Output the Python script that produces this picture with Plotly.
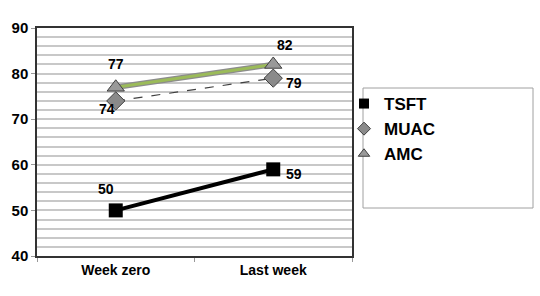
import plotly.graph_objects as go

categories = ["Week zero", "Last week"]
tsft = [50, 59]
muac = [74, 79]
amc = [77, 82]

FONT = "Liberation Sans, Arial, sans-serif"

fig = go.Figure()

# AMC: gray outline under green line
fig.add_trace(go.Scatter(x=categories, y=amc, mode="lines", line=dict(color="#8c8c8c", width=5.5),
                         showlegend=False, hoverinfo="skip"))
fig.add_trace(go.Scatter(x=categories, y=muac, mode="lines+markers", showlegend=False,
                         line=dict(color="#404040", width=1.2, dash="dash"),
                         marker=dict(symbol="diamond", size=14, color="#8a8a8a",
                                     line=dict(color="#404040", width=1))))
fig.add_trace(go.Scatter(x=categories, y=amc, mode="lines+markers", showlegend=False,
                         line=dict(color="#9bbb59", width=3),
                         marker=dict(symbol="triangle-up", size=15, color="#999999",
                                     line=dict(color="#404040", width=1))))
fig.add_trace(go.Scatter(x=categories, y=tsft, mode="lines+markers", showlegend=False,
                         line=dict(color="#000000", width=4),
                         marker=dict(symbol="square", size=14, color="#000000")))

# legend-only entries
fig.add_trace(go.Scatter(x=[None], y=[None], mode="markers", name="TSFT", legendrank=1,
                         marker=dict(symbol="square", size=10, color="#000")))
fig.add_trace(go.Scatter(x=[None], y=[None], mode="markers", name="MUAC", legendrank=2,
                         marker=dict(symbol="diamond", size=10, color="#8a8a8a",
                                     line=dict(color="#404040", width=1))))
fig.add_trace(go.Scatter(x=[None], y=[None], mode="markers", name="AMC", legendrank=3,
                         marker=dict(symbol="triangle-up", size=10, color="#999999",
                                     line=dict(color="#404040", width=1))))

# value labels (offsets in pixels)
offsets = {
    "tsft": [(-10, 21), (21, -5)],
    "muac": [(-9, -8), (21, -5)],
    "amc": [(0, 23), (12, 19)],
}
for key, vals in (("tsft", tsft), ("muac", muac), ("amc", amc)):
    for i, v in enumerate(vals):
        dx, dy = offsets[key][i]
        fig.add_annotation(x=categories[i], y=v, text=str(v), showarrow=False,
                           xshift=dx, yshift=dy,
                           font=dict(family=FONT, size=14, color="#000", weight="bold"))

L, R, T, B = 37, 188, 28, 40
pw, ph = 540 - L - R, 296 - T - B

def px_x(p):
    return (p - L) / pw

def px_y(p):
    return (296 - B - p) / ph

fig.add_shape(type="rect", xref="paper", yref="paper",
              x0=px_x(363), x1=px_x(533), y0=px_y(208), y1=px_y(88),
              line=dict(color="#a0a0a0", width=1), fillcolor="white", layer="below")

fig.update_layout(
    width=540, height=296,
    margin=dict(l=L, r=R, t=T, b=B),
    paper_bgcolor="white", plot_bgcolor="white",
    font=dict(family=FONT, size=14, color="#000"),
    legend=dict(x=px_x(344), y=px_y(86), xanchor="left", yanchor="top",
                bgcolor="rgba(0,0,0,0)", borderwidth=0, traceorder="normal",
                font=dict(family=FONT, size=17, color="#000", weight="bold"),
                tracegroupgap=0, itemwidth=30),
    showlegend=True,
)
fig.update_xaxes(range=[-0.5, 1.5], showline=True, linecolor="#333", linewidth=1.5, mirror=True,
                 ticks="outside", tickson="boundaries", ticklen=4, tickcolor="#999",
                 showgrid=False, tickfont=dict(family=FONT, size=14, weight="bold"))
fig.update_yaxes(range=[40, 90], dtick=10, showline=True, linecolor="#333", linewidth=1.5, mirror=True,
                 ticks="outside", ticklen=4, tickcolor="#999",
                 showgrid=True, gridcolor="#c8c8c8", gridwidth=1.5,
                 minor=dict(dtick=2, showgrid=True, gridcolor="#c8c8c8", gridwidth=1.5),
                 tickfont=dict(family=FONT, size=15, weight="bold"), zeroline=False)

fig.write_html("out.html")
